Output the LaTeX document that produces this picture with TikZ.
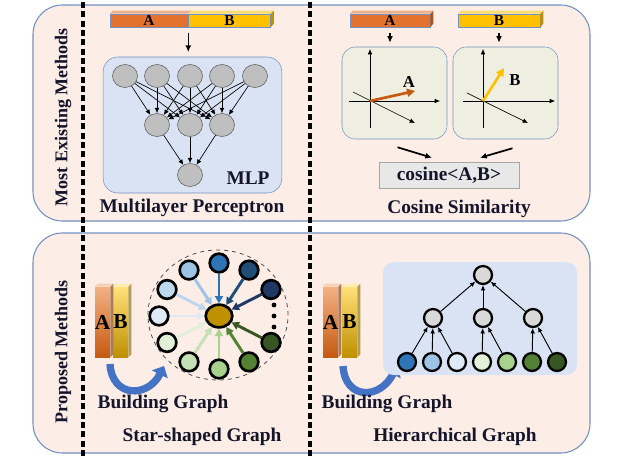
\documentclass[tikz,border=0pt]{standalone}
\usepackage{fontspec}
\setmainfont{Liberation Serif}
\usepackage{xcolor}
\usepackage{tikz}
\usetikzlibrary{positioning,arrows.meta,shapes.geometric,calc}

\definecolor{panelfill}{HTML}{FCEEE6}
\definecolor{panelline}{HTML}{7390C2}
\definecolor{mlpfill}{HTML}{DAE3F3}
\definecolor{vecfill}{HTML}{EEEFE0}
\definecolor{cosfill}{HTML}{E8E8E8}
\definecolor{nodegray}{HTML}{BFBFBF}
\definecolor{treegray}{HTML}{D9D9D9}
\definecolor{titletext}{HTML}{14142A}
\definecolor{barorange}{HTML}{E2722E}
\definecolor{orangetop}{HTML}{F4B183}
\definecolor{orangebot}{HTML}{C55A11}
\definecolor{baryellow}{HTML}{FFC000}
\definecolor{yellowtop}{HTML}{FFE07A}
\definecolor{yellowbot}{HTML}{BF9000}
\definecolor{hubgold}{HTML}{BF9000}
\definecolor{bendblue}{HTML}{4472C4}
\definecolor{vecorange}{HTML}{C55A11}
\definecolor{vecyellow}{HTML}{FFC000}
% node palette, blue -> green
\definecolor{blueA}{HTML}{2E75B6}
\definecolor{blueB}{HTML}{1F4E79}
\definecolor{blueC}{HTML}{203864}
\definecolor{blueD}{HTML}{9DC3E6}
\definecolor{blueE}{HTML}{BDD7EE}
\definecolor{blueF}{HTML}{DEEBF7}
\definecolor{greenA}{HTML}{E2F0D9}
\definecolor{greenB}{HTML}{C5E0B4}
\definecolor{greenC}{HTML}{A9D18E}
\definecolor{greenD}{HTML}{548235}
\definecolor{greenE}{HTML}{375623}

\tikzset{
  panel/.style={draw=panelline, fill=panelfill, line width=0.8pt, rounded corners=22pt},
  vsep/.style={line width=2.4pt, dash pattern=on 4.5pt off 2.5pt},
  title/.style={text=titletext, font=\bfseries\fontsize{14.5}{16}\selectfont},
  sidetitle/.style={rotate=90, text=titletext, font=\bfseries\fontsize{13.5}{15}\selectfont},
  hbar/.style={draw=panelline, line width=0.4pt, minimum height=9.75pt, inner sep=0pt, font=\bfseries\fontsize{11.5}{12}\selectfont},
  vbar/.style={minimum width=11.25pt, minimum height=52.5pt, inner sep=0pt},
  barletter/.style={font=\bfseries\fontsize{16}{16}\selectfont},
  mlpnode/.style={ellipse, draw=black!65, fill=nodegray, minimum width=18.75pt, minimum height=17.25pt, inner sep=0pt},
  starnode/.style={circle, draw=black, line width=2pt, minimum size=14pt, inner sep=0pt},
  treenode/.style={circle, draw=black, line width=1.7pt, minimum size=13.5pt, inner sep=0pt},
  vecbox/.style={draw=panelline, fill=vecfill, rounded corners=10pt, minimum width=78.75pt, minimum height=69pt},
  thinarrow/.style={-{Latex[length=4pt,width=3.5pt]}, line width=0.5pt},
  downarrow/.style={-{Latex[length=5pt,width=4.5pt]}, line width=1pt},
  bendarrow/.style={bendblue, line width=5.5pt, -{Triangle[length=7pt,width=13pt]}},
}

\begin{document}
\begin{tikzpicture}[x=0.75pt, y=-0.75pt]
    \useasboundingbox (0,0) rectangle (625,457);

    % Two method panels
    \draw[panel] (33,5) rectangle (590,221);
    \draw[panel] (33,233) rectangle (590,453);

    % Column separators
    \draw[vsep] (83,2) -- (83,457);
    \draw[vsep] (310,2) -- (310,457);

    \node[sidetitle] (tExist) at (63,117) {Most Existing Methods};
    \node[sidetitle] (tProp) at (63,352) {Proposed Methods};

    % ---- Multilayer perceptron ----
    \node[draw=panelline, fill=mlpfill, rounded corners=11pt, minimum width=134pt, minimum height=102pt] (mlpbox) at (192.5,125) {};
    \node[hbar, fill=barorange, minimum width=58.5pt] (mA) at (149,20.5) {A};
    \node[hbar, fill=baryellow, minimum width=61.5pt, right=0pt of mA] (mB) {B};
    \fill[barorange!55!white] (mA.north west) -- ++(3,-3) -- ($(mA.north east)+(3,-3)$) -- (mA.north east) -- cycle;
    \fill[baryellow!55!white] (mB.north west) -- ++(3,-3) -- ($(mB.north east)+(3,-3)$) -- (mB.north east) -- cycle;
    \fill[baryellow!75!black] (mB.north east) -- ++(3,-3) -- ++(0,13) -- (mB.south east) -- cycle;
    \draw[downarrow, shorten <=4pt, shorten >=3.5pt] (mA.south east) -- (mA.south east |- mlpbox.north);

    \foreach \i/\x in {1/125,2/157,3/190,4/222,5/255}
        \node[mlpnode] (in\i) at (\x,76) {};
    \foreach \j/\x in {1/157,2/190,3/222}
        \node[mlpnode] (hid\j) at (\x,125) {};
    \node[mlpnode] (out) at (190,175) {};
    \foreach \i in {1,...,5}
        \foreach \j in {1,2,3}
            \draw[thinarrow] (in\i) -- (hid\j);
    \foreach \j in {1,2,3}
        \draw[thinarrow] (hid\j) -- (out);
    \node[title] (mlpLabel) at (248,178) {MLP};
    \node[title] (tMlp) at (192,208) {Multilayer Perceptron};

    % ---- Cosine similarity ----
    \node[hbar, fill=barorange, minimum width=60pt] (cA) at (390,20.5) {A};
    \node[hbar, fill=baryellow, minimum width=61.5pt] (cB) at (499,20.5) {B};
    \foreach \b/\c in {cA/barorange,cB/baryellow} {
        \fill[\c!55!white] (\b.north west) -- ++(3,-3) -- ($(\b.north east)+(3,-3)$) -- (\b.north east) -- cycle;
        \fill[\c!75!black] (\b.north east) -- ++(3,-3) -- ++(0,13) -- (\b.south east) -- cycle;
    }
    \node[vecbox] (vbA) at (394.5,93) {};
    \node[vecbox] (vbB) at (505.5,93) {};
    \draw[downarrow, shorten <=4.5pt, shorten >=3pt] (cA.south) -- (cA.south |- vbA.north);
    \draw[downarrow, shorten <=4.5pt, shorten >=3pt] (cB.south) -- (cB.south |- vbB.north);

    % axes and vector A
    \draw[thinarrow] (370,128) -- (370,49);
    \draw[thinarrow] (349,101) -- (440,101);
    \draw[thinarrow] (353,92) -- (415,123);
    \draw[vecorange, line width=2pt, -{Triangle[length=6pt,width=6pt]}] (370,101) -- (415,91);
    \node[font=\bfseries\fontsize{12.5}{13}\selectfont] (vlA) at (409,82) {A};

    % axes and vector B
    \draw[thinarrow] (483,128) -- (483,49);
    \draw[thinarrow] (463,101) -- (555,101);
    \draw[thinarrow] (467,93) -- (528,123);
    \draw[vecyellow, line width=2pt, -{Triangle[length=6pt,width=6pt]}] (483,101) -- (504,68);
    \node[font=\bfseries\fontsize{12.5}{13}\selectfont] (vlB) at (515,80) {B};

    \node[title, draw=black!35, fill=cosfill, minimum width=105pt, minimum height=19.5pt] (cos) at (449,175) {cosine<A,B>};
    \draw[downarrow, line width=1.3pt] ($(vbA.south)+(3,8)$) -- ($(cos.north)+(-17,-4)$);
    \draw[downarrow, line width=1.3pt] ($(vbB.south)+(7,9)$) -- ($(cos.north)+(31,-4)$);
    \node[title] (tCos) at (459,209) {Cosine Similarity};

    % ---- Star-shaped graph ----
    \node[vbar, top color=orangetop, bottom color=orangebot] (sA) at (102.5,322) {};
    \node[vbar, top color=yellowtop, bottom color=yellowbot] (sB) at (120.5,322) {};
    \foreach \b/\c in {sA/orangetop,sB/yellowtop} {
        \fill[\c!60!white] (\b.north west) -- ++(3,-3) -- ($(\b.north east)+(3,-3)$) -- (\b.north east) -- cycle;
        \fill[\c!70!black] (\b.north east) -- ++(3,-3) -- ($(\b.south east)+(3,-3)$) -- (\b.south east) -- cycle;
    }
    \node[barletter] (lA) at (sA) {A};
    \node[barletter] (lB) at (sB) {B};
    \coordinate (bgStart) at (110,364);
    \coordinate (bgEnd) at (164,366);
    \draw[bendarrow] (bgStart) .. controls (112,398) and (148,398) .. (bgEnd);
    \node[title, anchor=west] (bgStar) at (93,404) {Building Graph};

    \draw[dashed, black!70, line width=0.6pt] (218,315) ellipse [x radius=52.5pt, y radius=48.75pt];
    \node[ellipse, draw=black, fill=hubgold, line width=2pt, minimum width=20pt, minimum height=17pt, inner sep=0pt] (hub) at (219,316) {};
    \foreach \a/\c [count=\k] in {90/blueA,60/blueB,30/blueC,-30/greenE,-60/greenD,-90/greenC,-120/greenB,-150/greenA,180/blueF,150/blueE,120/blueD} {
        \node[starnode, fill=\c] (sat\k) at ($(hub)+({60*cos(\a)},{-53*sin(\a)})$) {};
        \draw[draw=\c, fill=\c, line width=2.2pt, -{Triangle[length=5.5pt,width=6pt]}] (sat\k) -- (hub);
    }
    \foreach \y in {305,316,327}
        \fill (274,\y) circle (1.8pt);
    \node[title] (tStar) at (202,437) {Star-shaped Graph};

    % ---- Hierarchical graph ----
    \node[vbar, top color=orangetop, bottom color=orangebot] (hA) at (330.5,322) {};
    \node[vbar, top color=yellowtop, bottom color=yellowbot] (hB) at (349.5,322) {};
    \foreach \b/\c in {hA/orangetop,hB/yellowtop} {
        \fill[\c!60!white] (\b.north west) -- ++(3,-3) -- ($(\b.north east)+(3,-3)$) -- (\b.north east) -- cycle;
        \fill[\c!70!black] (\b.north east) -- ++(3,-3) -- ($(\b.south east)+(3,-3)$) -- (\b.south east) -- cycle;
    }
    \node[barletter] (lhA) at (hA) {A};
    \node[barletter] (lhB) at (hB) {B};
    \coordinate (bhStart) at (343,366);
    \coordinate (bhEnd) at (397,366);
    \draw[bendarrow] (bhStart) .. controls (345,400) and (380,400) .. (bhEnd);
    \node[title, anchor=west] (bgHier) at (317,404) {Building Graph};

    \node[fill=mlpfill, rounded corners=8pt, minimum width=145.5pt, minimum height=84.75pt] (hierbox) at (480,318.5) {};
    \node[treenode, fill=treegray] (root) at (483,275) {};
    \foreach \m/\x in {1/433,2/483,3/533}
        \node[treenode, fill=treegray] (mid\m) at (\x,318) {};
    \foreach \c [count=\k] in {blueA,blueD,blueF,greenA,greenC,greenD,greenE}
        \node[treenode, fill=\c] (leaf\k) at ({382+25*\k},362) {};
    \foreach \k/\m in {1/1,2/1,3/1,4/2,5/2,6/3,7/3}
        \draw[thinarrow, line width=0.7pt] (leaf\k) -- (mid\m);
    \foreach \m in {1,2,3}
        \draw[thinarrow, line width=0.7pt] (mid\m) -- (root);
    \node[title] (tHier) at (455,437) {Hierarchical Graph};
\end{tikzpicture}
\end{document}
